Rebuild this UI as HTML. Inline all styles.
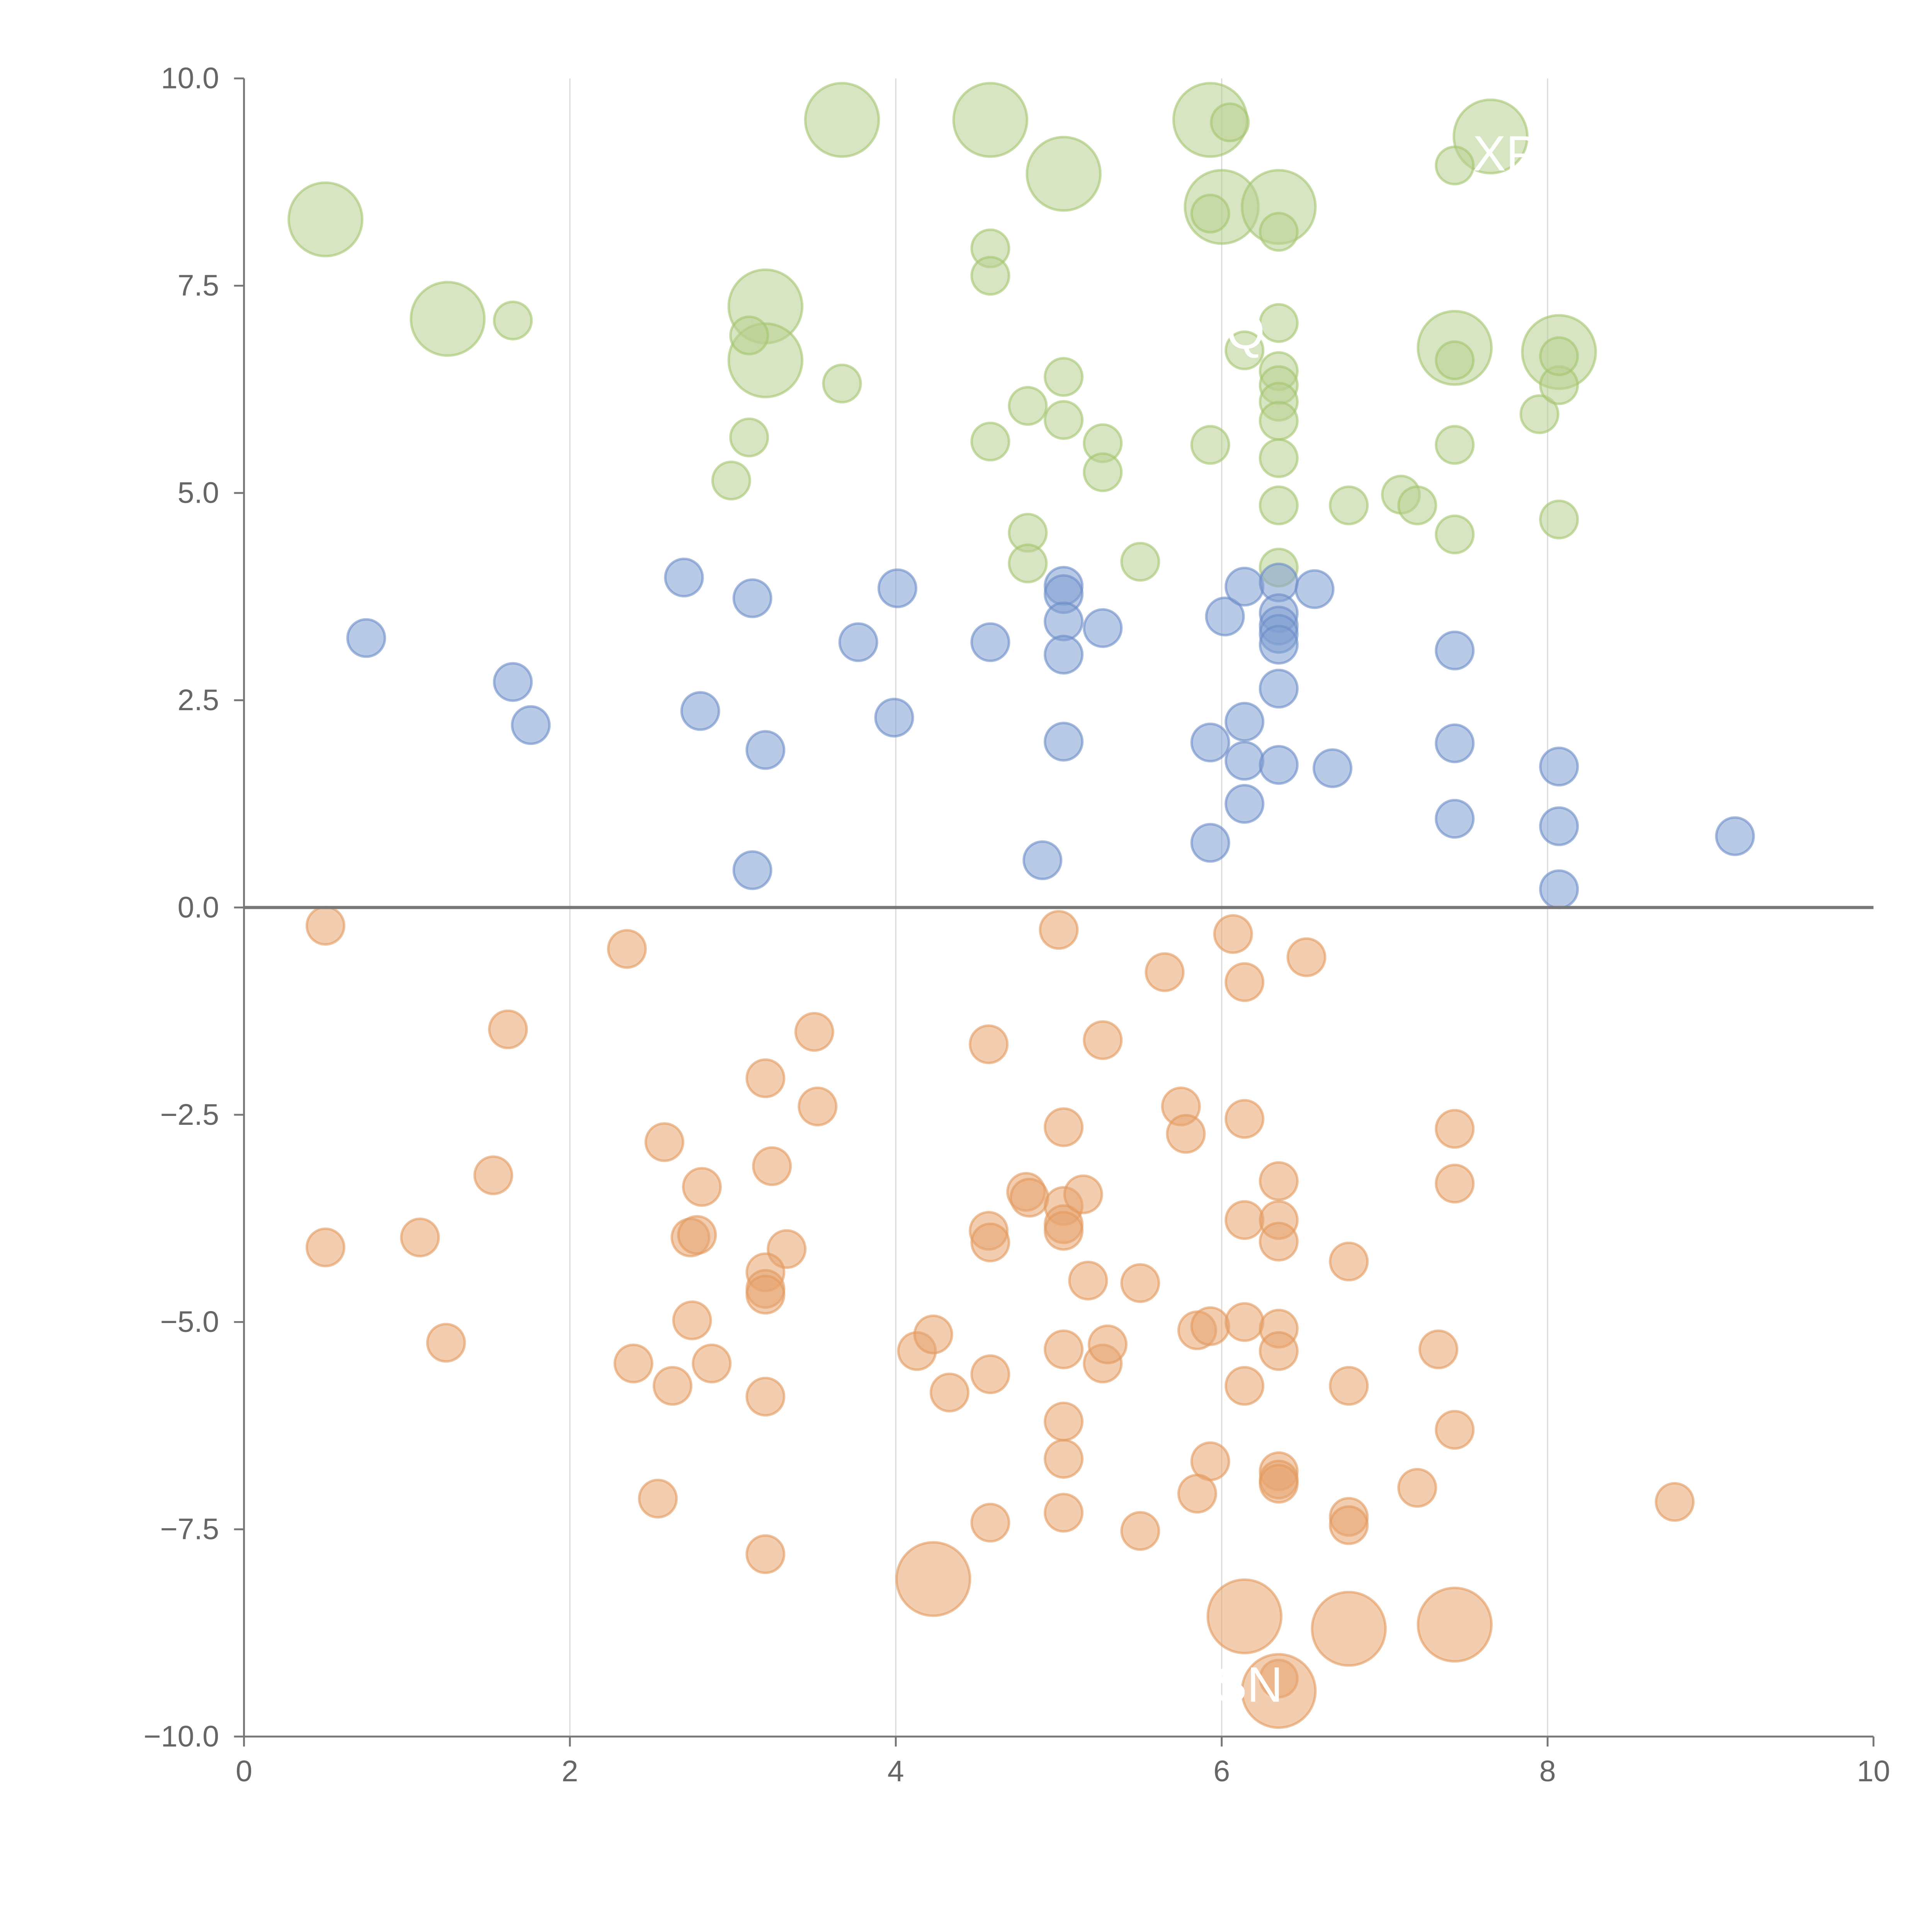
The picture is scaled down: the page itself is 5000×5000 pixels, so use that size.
<!DOCTYPE html>
<html><head><meta charset="utf-8"><style>
html,body{margin:0;padding:0;background:#fff;}
svg{display:block;}
text{font-family:"Liberation Sans",sans-serif;}
</style></head><body>
<svg id="chart" width="5000" height="5000" viewBox="0 0 1552 1552" xmlns="http://www.w3.org/2000/svg">
<g id="grid"></g>
<g id="marks"></g>
<g id="axes"></g>
<g id="labels">
<text x="1183" y="137" font-size="40" fill="#fff">XP</text>
<text x="985" y="280" font-size="40" fill="#fff">Q</text>
<text x="975" y="1367" font-size="40" fill="#fff">SN</text>
</g>
</svg>
<script>
const xTicks=[0,2,4,6,8,10];
const yTicks=[10,7.5,5,2.5,0,-2.5,-5,-7.5,-10];
const yTickLabels=["10.0","7.5","5.0","2.5","0.0","\u22122.5","\u22125.0","\u22127.5","\u221210.0"];
const greenX=[0.5,1.25,3.2,3.2,3.67,4.58,5.03,5.93,6.0,6.35,7.43,7.65,8.07,1.65,3.1,3.67,3.1,2.99,4.58,4.58,4.81,4.58,5.03,5.03,5.27,5.27,4.81,4.81,5.5,5.93,6.05,6.35,6.14,6.35,5.93,6.35,6.35,6.35,6.35,6.35,6.35,6.35,6.78,7.1,7.2,7.43,7.43,7.43,7.43,7.95,8.07,8.07,8.07];
const greenY=[8.3,7.1,7.25,6.6,9.5,9.5,8.85,9.5,8.45,8.45,6.75,9.3,6.7,7.08,6.9,6.32,5.67,5.15,7.95,7.62,6.05,5.62,6.4,5.88,5.6,5.25,4.52,4.15,4.17,8.37,9.47,8.15,6.72,7.05,5.58,6.47,6.3,6.1,5.87,5.42,4.85,4.1,4.85,4.98,4.85,8.95,6.6,5.58,4.5,5.95,6.3,6.65,4.68];
const greenBig=[1,1,1,1,1,1,1,1,1,1,1,1,1,0,0,0,0,0,0,0,0,0,0,0,0,0,0,0,0,0,0,0,0,0,0,0,0,0,0,0,0,0,0,0,0,0,0,0,0,0,0,0,0];
const blueX=[0.75,1.65,1.76,2.7,2.8,3.12,3.2,3.12,3.77,4.01,3.99,4.58,4.9,5.03,5.03,5.03,5.03,5.03,5.27,5.93,5.93,6.02,6.14,6.14,6.14,6.14,6.35,6.35,6.35,6.35,6.35,6.35,6.35,6.57,6.68,7.43,7.43,7.43,8.07,8.07,8.07,9.15];
const blueY=[3.25,2.72,2.2,3.98,2.37,3.73,1.9,0.45,3.2,3.85,2.29,3.2,0.57,3.88,3.78,3.45,3.05,2.0,3.37,1.99,0.78,3.51,3.87,2.24,1.77,1.25,3.92,3.55,3.4,3.3,3.17,2.64,1.72,3.84,1.68,3.1,1.98,1.07,1.7,0.98,0.22,0.86];
const orangeX=[0.5,2.35,1.62,0.5,1.08,1.53,1.24,2.58,2.81,2.74,2.78,2.75,2.39,2.63,2.87,2.54,3.2,3.24,3.33,3.2,3.2,3.2,3.2,3.2,3.5,3.52,4.13,4.23,4.33,4.57,4.57,4.58,4.58,4.58,4.8,4.82,5.0,5.03,5.03,5.03,5.03,5.15,5.03,5.03,5.03,5.03,5.27,5.18,5.27,5.3,5.5,5.5,5.65,5.75,5.78,5.85,5.93,5.93,5.85,6.07,6.14,6.14,6.14,6.14,6.14,6.35,6.35,6.35,6.35,6.35,6.35,6.35,6.35,6.35,6.52,6.78,6.78,6.78,6.78,7.2,7.33,7.43,7.43,7.43,8.78,4.23,6.14,6.78,7.43,6.35];
const orangeY=[-0.22,-0.5,-1.47,-4.1,-3.98,-3.23,-5.25,-2.83,-3.37,-3.98,-3.95,-4.98,-5.5,-5.77,-5.5,-7.13,-2.06,-3.12,-4.12,-4.4,-4.6,-4.67,-5.9,-7.8,-1.5,-2.4,-5.35,-5.15,-5.85,-1.65,-3.9,-4.04,-5.63,-7.42,-3.43,-3.5,-0.27,-2.65,-3.6,-3.82,-3.9,-3.46,-5.33,-6.2,-6.65,-7.3,-1.6,-4.5,-5.5,-5.27,-4.53,-7.52,-0.78,-2.4,-2.73,-5.1,-5.05,-6.68,-7.07,-0.32,-0.9,-2.55,-3.77,-5.0,-5.77,-3.3,-3.77,-4.03,-5.08,-5.35,-6.8,-6.9,-6.95,-9.3,-0.6,-4.27,-5.77,-7.35,-7.45,-7.0,-5.33,-2.67,-3.33,-6.3,-7.17,-8.1,-8.55,-8.7,-8.65,-9.45];
const orangeBig=[0,0,0,0,0,0,0,0,0,0,0,0,0,0,0,0,0,0,0,0,0,0,0,0,0,0,0,0,0,0,0,0,0,0,0,0,0,0,0,0,0,0,0,0,0,0,0,0,0,0,0,0,0,0,0,0,0,0,0,0,0,0,0,0,0,0,0,0,0,0,0,0,0,0,0,0,0,0,0,0,0,0,0,0,0,1,1,1,1,1];

const NS="http://www.w3.org/2000/svg";
const X0=196,X1=1505,Y0=1395,Y1=63;
function sx(v){return X0+(v-0)/(10-0)*(X1-X0);}
function sy(v){return Y0-(v+10)/20*(Y0-Y1);}
function mk(tag,attrs,parent){const e=document.createElementNS(NS,tag);for(const k in attrs)e.setAttribute(k,attrs[k]);parent.appendChild(e);return e;}
const grid=document.getElementById('grid'),marks=document.getElementById('marks'),axes=document.getElementById('axes');
xTicks.forEach(t=>{if(t>0&&t<10){const l=mk('line',{x1:sx(t),x2:sx(t),y1:Y1,y2:Y0,stroke:'#dcdcdc','stroke-width':1},grid);

}});
function series(xs,ys,bigs,fill,stroke,name){
 xs.forEach((x,i)=>{const r=bigs&&bigs[i]?29.5:15;
  const c=mk('circle',{cx:sx(x),cy:sy(ys[i]),r:r,fill:fill,'fill-opacity':0.55,stroke:stroke,'stroke-opacity':0.6,'stroke-width':2},marks);
  
  });
}
series(greenX,greenY,greenBig,'#b8d08f','#a3c46e','bubble-green');
series(blueX,blueY,null,'#7f9fd2','#6a8cc8','bubble-blue');
series(orangeX,orangeY,orangeBig,'#e7a470','#e39a5e','bubble-orange');
const z=mk('line',{x1:X0,x2:X1,y1:sy(0),y2:sy(0),stroke:'#777','stroke-width':2.5},axes);


const ya=mk('line',{x1:X0,x2:X0,y1:Y1,y2:Y0,stroke:'#777','stroke-width':1.5},axes);


const xa=mk('line',{x1:X0,x2:X1,y1:Y0,y2:Y0,stroke:'#777','stroke-width':1.5},axes);


yTicks.forEach((t,i)=>{mk('line',{x1:X0-8,x2:X0,y1:sy(t),y2:sy(t),stroke:'#777','stroke-width':1.5},axes);
 const tx=mk('text',{x:X0-20,y:sy(t)+8,'text-anchor':'end','font-size':24,fill:'#666'},axes);
 tx.textContent=yTickLabels[i];
 
 });
xTicks.forEach(t=>{mk('line',{x1:sx(t),x2:sx(t),y1:Y0,y2:Y0+8,stroke:'#777','stroke-width':1.5},axes);
 const tx=mk('text',{x:sx(t),y:Y0+36,'text-anchor':'middle','font-size':24,fill:'#666'},axes);
 tx.textContent=String(t);
 
 });
</script>
</body></html>
